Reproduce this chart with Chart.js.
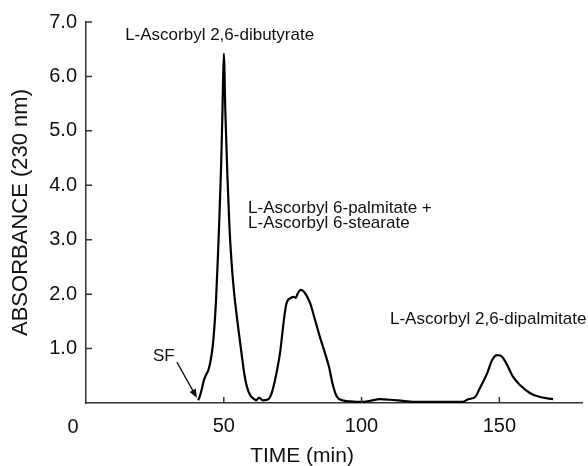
<!DOCTYPE html>
<html>
<head>
<meta charset="utf-8">
<script src="https://cdn.jsdelivr.net/npm/chart.js@4.4.1/dist/chart.umd.min.js"></script>
<style>
  body { margin: 0; background: #fff; }
  #wrap { width: 588px; height: 466px; }
</style>
</head>
<body>
<div id="wrap"><canvas id="chart" width="588" height="466"></canvas></div>
<script>
// chromatogram trace
const timeMin = [
  40.7, 41.3, 42.0, 42.8, 43.6, 44.5, 45.3, 46.0, 46.6, 47.2, 47.8, 48.4, 49.0,
  49.5, 50.0, 50.6, 51.3, 52.0, 52.8, 53.7, 54.7, 55.7, 56.6, 57.5, 58.4, 59.5,
  60.8, 61.8, 62.8, 64.2, 65.8, 66.8, 67.5, 68.5, 69.5, 70.5, 71.3, 72.0,
  72.7, 73.4, 74.3, 75.4, 76.2, 76.7, 78.0, 79.2, 81.3, 83.1, 84.9, 86.7, 88.2,
  89.5, 91.0, 93.0, 96.0, 100.0, 103.0, 106.7, 110.3, 115.0, 120.0, 130.0,
  136.8, 138.7, 141.2, 143.0, 145.6, 147.4, 149.2, 151.0, 152.8, 155.0, 157.5,
  161.2, 164.8, 169.5
];
const absorbance = [
  0.05, 0.12, 0.25, 0.42, 0.52, 0.62, 0.80, 1.05, 1.40, 1.90, 2.60, 3.40, 4.30,
  5.30, 6.42, 5.30, 4.20, 3.30, 2.60, 2.05, 1.60, 1.20, 0.85, 0.52, 0.30, 0.15,
  0.08, 0.05, 0.10, 0.05, 0.06, 0.11, 0.20, 0.40, 0.65, 0.95, 1.30, 1.60,
  1.82, 1.90, 1.93, 1.95, 1.93, 2.00, 2.08, 2.04, 1.84, 1.53, 1.21, 0.92, 0.66,
  0.35, 0.12, 0.05, 0.03, 0.02, 0.04, 0.07, 0.06, 0.04, 0.02, 0.02,
  0.02, 0.07, 0.11, 0.28, 0.55, 0.79, 0.88, 0.85, 0.70, 0.48, 0.33,
  0.18, 0.11, 0.07
];

const xTickValues = [0, 50, 100, 150];
const yTickValues = [1, 2, 3, 4, 5, 6, 7];

const peakNames = [
  ["L-Ascorbyl 2,6-dibutyrate"],
  ["L-Ascorbyl 6-palmitate +", "L-Ascorbyl 6-stearate"],
  ["L-Ascorbyl 2,6-dipalmitate"],
  ["SF"]
];
// where each label sits, in data units (left edge / first baseline)
const peakNameAt = [
  { x: 14.2, y: 6.67 },
  { x: 58.8, y: 3.49 },
  { x: 110.3, y: 1.45 },
  { x: 24.3, y: 0.77 }
];

const FONT = "'Liberation Sans', Arial, Helvetica, sans-serif";
const INK = "#111";

const extras = {
  id: "extras",
  afterDraw(chart) {
    const ctx = chart.ctx;
    const xs = chart.scales.x;
    const ys = chart.scales.y;
    const area = chart.chartArea;
    ctx.save();

    // inward tick marks
    ctx.strokeStyle = "#333";
    ctx.lineWidth = 1.5;
    ctx.beginPath();
    yTickValues.forEach(v => {
      const py = ys.getPixelForValue(v);
      ctx.moveTo(area.left, py);
      ctx.lineTo(area.left + 6, py);
    });
    xTickValues.slice(1).forEach(v => {
      const px = xs.getPixelForValue(v);
      ctx.moveTo(px, area.bottom);
      ctx.lineTo(px, area.bottom - 6);
    });
    ctx.stroke();

    // the origin "0", set left of the corner
    ctx.fillStyle = INK;
    ctx.font = "20px " + FONT;
    ctx.textAlign = "center";
    ctx.textBaseline = "alphabetic";
    ctx.fillText("0", xs.getPixelForValue(0) - 13, area.bottom + 30);

    // x title
    ctx.font = "21px " + FONT;
    ctx.fillText("TIME (min)", xs.getPixelForValue(78.4), area.bottom + 59);

    // peak names
    ctx.font = "17px " + FONT;
    ctx.textAlign = "left";
    peakNames.forEach((lines, i) => {
      const px = xs.getPixelForValue(peakNameAt[i].x);
      const py = ys.getPixelForValue(peakNameAt[i].y);
      lines.forEach((t, j) => ctx.fillText(t, px, py + j * 15));
    });

    // arrow from SF to the start of the trace
    const x0 = xs.getPixelForValue(33.0), y0 = ys.getPixelForValue(0.75);
    const x1 = xs.getPixelForValue(40.3), y1 = ys.getPixelForValue(0.09);
    const ang = Math.atan2(y1 - y0, x1 - x0);
    ctx.strokeStyle = INK;
    ctx.lineWidth = 1.3;
    ctx.beginPath();
    ctx.moveTo(x0, y0);
    ctx.lineTo(x1 - 4 * Math.cos(ang), y1 - 4 * Math.sin(ang));
    ctx.stroke();
    ctx.beginPath();
    ctx.moveTo(x1, y1);
    ctx.lineTo(x1 - 9 * Math.cos(ang) + 3.5 * Math.sin(ang), y1 - 9 * Math.sin(ang) - 3.5 * Math.cos(ang));
    ctx.lineTo(x1 - 9 * Math.cos(ang) - 3.5 * Math.sin(ang), y1 - 9 * Math.sin(ang) + 3.5 * Math.cos(ang));
    ctx.closePath();
    ctx.fill();

    ctx.restore();
  }
};

new Chart(document.getElementById("chart"), {
  type: "line",
  data: {
    datasets: [{
      data: timeMin.map((t, i) => ({ x: t, y: absorbance[i] })),
      borderColor: "#000",
      borderWidth: 2.2,
      pointRadius: 0,
      cubicInterpolationMode: "monotone",
      fill: false
    }]
  },
  options: {
    responsive: false,
    animation: false,
    events: [],
    layout: { padding: { top: 22, right: 6, left: 0, bottom: 0 } },
    plugins: { legend: { display: false }, tooltip: { enabled: false } },
    scales: {
      x: {
        type: "linear",
        min: 0,
        max: 180,
        afterFit: s => { s.height = 63; },
        afterBuildTicks: s => { s.ticks = xTickValues.map(v => ({ value: v })); },
        grid: { display: false, drawTicks: false },
        border: { display: true, color: "#333", width: 1.5 },
        ticks: {
          color: INK,
          font: { family: FONT, size: 20 },
          padding: 11,
          maxRotation: 0,
          callback: v => (v === 0 ? "" : v)
        }
      },
      y: {
        min: 0,
        max: 7,
        afterFit: s => { s.width = 86; },
        afterBuildTicks: s => { s.ticks = yTickValues.map(v => ({ value: v })); },
        grid: { display: false, drawTicks: false },
        border: { display: true, color: "#333", width: 1.5 },
        ticks: {
          color: INK,
          font: { family: FONT, size: 20 },
          padding: 9,
          callback: v => v.toFixed(1)
        },
        title: {
          display: true,
          text: "ABSORBANCE (230 nm)",
          color: INK,
          font: { family: FONT, size: 22 },
          padding: { top: 8, bottom: 0 }
        }
      }
    }
  },
  plugins: [extras]
});
</script>
</body>
</html>
